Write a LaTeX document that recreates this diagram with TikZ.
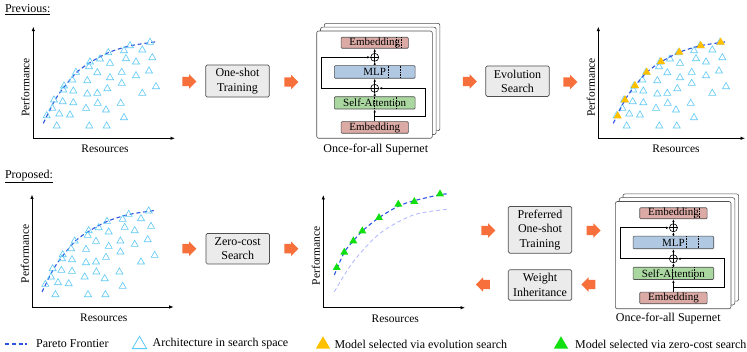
\documentclass[tikz,border=0pt]{standalone}
\usepackage{fontspec}
\setmainfont{Liberation Serif}
\usetikzlibrary{arrows.meta,shapes.geometric,shapes.arrows,positioning}
\definecolor{nas-blue}{HTML}{2E55E0}
\definecolor{nas-lav}{HTML}{B4BCFF}
\definecolor{nas-arch}{HTML}{5CC8F5}
\definecolor{nas-gold}{HTML}{FFC000}
\definecolor{nas-green}{HTML}{10E010}
\definecolor{nas-orange}{HTML}{F7703C}
\definecolor{nas-emb}{HTML}{DBAAA5}
\definecolor{nas-mlp}{HTML}{B0C8E1}
\definecolor{nas-att}{HTML}{AAD7A0}
\definecolor{nas-box}{HTML}{EBEBEB}
\definecolor{nas-line}{HTML}{505050}

% architectures in the search space, relative to the axis corner
\newcommand{\archlist}{116.7/-96, 96.7/-92.6, 90.7/-87.6, 109/-88.3, 75/-85.6, 66.7/-79.3,
  56.7/-76.3, 92.7/-79.6, 102.7/-76.3, 119/-80.6, 76.7/-75, 55.7/-71.6, 42.7/-66, 64/-65.6,
  88.4/-66, 102.7/-62.6, 115.7/-67.3, 76.7/-60.6, 39/-58.3, 54/-57.6, 88.4/-55, 30.7/-52.3,
  30/-48.3, 40/-47.3, 74/-49.6, 54/-44.3, 64/-45, 122.7/-51.6, 109/-45, 20.7/-38.3,
  29.4/-36.6, 40/-35.6, 64.4/-35, 87.4/-35, 19/-30, 52.7/-30, 72.7/-28.3, 13.4/-22.6,
  26/-24.3, 36.7/-23.3, 90.7/-20.6, 23.4/-12.3, 56/-12.3, 73.4/-12.3}

\begin{document}
\begin{tikzpicture}[
    x=1pt, y=-1pt,
    font=\fontsize{12}{14.5}\selectfont,
    axis/.style={-{Latex[length=4.5pt,width=3.5pt]}, line width=0.8pt},
    axlabel/.style={font=\fontsize{11.5}{13}\selectfont},
    pareto/.style={draw=nas-blue, line width=1.1pt, dash pattern=on 4pt off 2.8pt},
    faded/.style={draw=nas-lav, line width=0.9pt, dash pattern=on 4pt off 2.8pt},
    arch/.style={regular polygon, regular polygon sides=3, draw=nas-arch, line width=0.6pt, inner sep=0pt, minimum size=8.2pt},
    evo/.style={regular polygon, regular polygon sides=3, fill=nas-gold, inner sep=0pt, minimum size=9.6pt},
    zcost/.style={regular polygon, regular polygon sides=3, fill=nas-green, inner sep=0pt, minimum size=9.2pt},
    proc/.style={draw=nas-line, fill=nas-box, rounded corners=1.5pt, line width=0.7pt, minimum width=63.5pt, minimum height=30.5pt, align=center},
    oarrow/.style={single arrow, fill=nas-orange, draw=none, inner xsep=0pt, inner ysep=4.5pt, minimum height=14pt, single arrow head extend=2.5pt},
    frame/.style={draw=nas-line, fill=white, rounded corners=2pt, line width=0.6pt},
    module/.style={draw=nas-line, rounded corners=1pt, line width=0.6pt, inner sep=0pt, font=\fontsize{11}{12}\selectfont},
    plus/.style={circle, draw, line width=0.6pt, minimum size=8pt, inner sep=0pt},
    sarrow/.style={-{Latex[length=3pt,width=2.4pt]}, line width=0.6pt},
    supernet/.pic={
        \foreach \d in {7.6,3.8} \draw[frame] (\d,-\d) rectangle ++(115.6,107.3);
        \draw[frame] (0,0) rectangle (115.6,107.3);
        \node[module, fill=nas-emb, minimum width=67.3pt, minimum height=11pt] (-embt) at (58,11.8) {Embedding};
        \node[module, fill=nas-mlp, minimum width=80.7pt, minimum height=12.6pt] (-mlp) at (58,41) {MLP};
        \node[module, fill=nas-att, minimum width=80.7pt, minimum height=12.3pt] (-sa) at (58,71.9) {Self-Attention};
        \node[module, fill=nas-emb, minimum width=67.3pt, minimum height=11.6pt] (-embb) at (58,96.5) {Embedding};
        % elastic dimensions
        \draw[densely dotted, line width=0.6pt] (79.3,6.3) -- (79.3,17.3) (84.3,6.3) -- (84.3,17.3);
        \draw[densely dotted, line width=0.6pt] (71.3,34.7) -- (71.3,47.3) (83.3,34.7) -- (83.3,47.3);
        \draw[densely dotted, line width=0.6pt] (57.3,65.7) -- (57.3,78) (79.3,65.7) -- (79.3,78);
        \node[plus] (-pu) at (58,26.3) {};
        \node[plus] (-pl) at (58,57.3) {};
        \draw[line width=0.6pt] (-pu.north) -- (-pu.south) (-pu.west) -- (-pu.east);
        \draw[line width=0.6pt] (-pl.north) -- (-pl.south) (-pl.west) -- (-pl.east);
        \draw[sarrow] (-embb) -- (-sa);
        \draw[sarrow] (-sa) -- (-pl);
        \draw[sarrow] (-pl) -- (-mlp);
        \draw[sarrow] (-mlp) -- (-pu);
        \draw[sarrow] (-pu) -- (-embt);
        \coordinate (-br) at (58,85.7);
        \draw[sarrow] (-br) -- ++(51,0) |- (-pl.east);
        \draw[sarrow] (-pl.west) -- ++(-49,0) |- (-pu.west);
    }
]
\useasboundingbox (0,0) rectangle (747,352);

% =========================================================================
% PREVIOUS
% =========================================================================
\node[anchor=west] (prev) at (1.5,9.5) {\underline{Previous:}};

\begin{scope}[shift={(33.3,138.3)}, name prefix=tl-]
    \draw[axis] (0,0) -- (0,-111.6);
    \draw[axis] (0,0) -- (141.7,0);
    \node[axlabel, rotate=90] (perf) at (-8,-51) {Performance};
    \node[axlabel] (res) at (71.7,10.7) {Resources};
    \draw[pareto] plot[smooth] coordinates {(10,-15) (21.7,-38.3) (31.7,-52.3) (43.7,-66.3) (57.7,-76.3) (76,-86) (97.4,-92.6) (123.4,-96.6)};
    \foreach \p/\q [count=\i] in \archlist {\node[arch] (a\i) at (\p,\q) {};}
\end{scope}

\node[oarrow] (a1) at (187,81.5) {};
\node[proc] (train) at (237.5,81) {One-shot\\Training};
\node[oarrow] (a2) at (289,82) {};

\pic (sn1) at (316.7,31) {supernet};
\node (sn1lbl) at (375.8,150) {Once-for-all Supernet};

\node[oarrow] (a3) at (467.5,81.5) {};
\node[proc] (evol) at (517.5,81.2) {Evolution\\Search};
\node[oarrow] (a4) at (568,82) {};

\begin{scope}[shift={(598.3,138.3)}, name prefix=tr-]
    \draw[axis] (0,0) -- (0,-111.6);
    \draw[axis] (0,0) -- (146.7,0);
    \node[axlabel, rotate=90] (perf) at (-7.3,-51) {Performance};
    \node[axlabel] (res) at (77.7,10.3) {Resources};
    \begin{scope}[xshift=5]
        \foreach \p/\q [count=\i] in \archlist {\node[arch] (a\i) at (\p,\q) {};}
        \draw[pareto] plot[smooth] coordinates {(10,-15) (21.7,-38.3) (31.7,-52.3) (43.7,-66.3) (57.7,-76.3) (76,-86) (97.4,-92.6) (123.4,-96.6)};
        \foreach \p/\q [count=\i] in {14.4/-22.3, 21.7/-38.3, 31.7/-52.6, 43.4/-66, 57.7/-76.6, 76/-86, 97.4/-92.6, 117.4/-96}
            {\node[evo] (e\i) at (\p,\q) {};}
    \end{scope}
\end{scope}

% =========================================================================
% PROPOSED
% =========================================================================
\node[anchor=west] (prop) at (1.5,176.5) {\underline{Proposed:}};

\begin{scope}[shift={(32,307)}, name prefix=bl-]
    \draw[axis] (0,0) -- (0,-112.5);
    \draw[axis] (0,0) -- (141.7,0);
    \node[axlabel, rotate=90] (perf) at (-7,-53) {Performance};
    \node[axlabel] (res) at (71.8,11) {Resources};
    \draw[pareto] plot[smooth] coordinates {(10,-15) (21.7,-38.3) (31.7,-52.3) (43.7,-66.3) (57.7,-76.3) (76,-86) (97.4,-92.6) (123.4,-96.6)};
    \foreach \p/\q [count=\i] in \archlist {\node[arch] (a\i) at (\p,\q) {};}
\end{scope}

\node[oarrow] (b1) at (187,248.7) {};
\node[proc] (zcs) at (237.7,248.7) {Zero-cost\\Search};
\node[oarrow] (b2) at (289,248.7) {};

\begin{scope}[shift={(323.3,307.7)}, name prefix=bm-]
    \draw[axis] (0,0) -- (0,-112.7);
    \draw[axis] (0,0) -- (141.7,0);
    \node[axlabel, rotate=90] (perf) at (-7.3,-52) {Performance};
    \node[axlabel] (res) at (72,10.6) {Resources};
    \draw[faded] plot[smooth] coordinates {(11,-16) (30,-46) (56.7,-74.4) (90,-92.7) (123.4,-98.4)};
    \draw[pareto] plot[smooth] coordinates {(11,-32.7) (21,-55.4) (30,-66.7) (39,-76.7) (55.7,-90) (75,-101.5) (91,-107) (116.7,-113) (123.4,-113.7)};
    \foreach \p/\q [count=\i] in {13.4/-40, 21/-55.4, 30/-66.7, 39/-76.7, 55.7/-90, 75/-103.4, 91/-106, 116.7/-113.7}
        {\node[zcost] (g\i) at (\p,\q) {};}
\end{scope}

\node[oarrow] (b3) at (486,230.5) {};
\node[proc, minimum height=45pt] (pref) at (540,229.8) {Preferred\\One-shot\\Training};
\node[oarrow] (b4) at (591.3,230.5) {};
\node[oarrow, shape border rotate=180] (b5) at (485.3,284.5) {};
\node[proc] (inh) at (540,285) {Weight\\Inheritance};
\node[oarrow, shape border rotate=180] (b6) at (590.8,284.5) {};

\pic (sn2) at (615.4,201.5) {supernet};
\node (sn2lbl) at (668.3,318.3) {Once-for-all Supernet};

% =========================================================================
% LEGEND
% =========================================================================
\coordinate (l0) at (5,344);
\draw[pareto] (l0) -- ++(22,0);
\node[anchor=west, inner sep=0pt] (l1) at (36,344) {Pareto Frontier};
\node[arch, minimum size=16.5pt, line width=0.8pt] (l2) at (139.5,344.5) {};
\node[anchor=west, inner sep=0pt] (l3) at (152.5,344) {Architecture in search space};
\node[evo, minimum size=16.5pt] (l4) at (323,344.5) {};
\node[anchor=west, inner sep=0pt] (l5) at (334.3,344) {Model selected via evolution search};
\node[zcost, minimum size=16.5pt] (l6) at (561,344.5) {};
\node[anchor=west, inner sep=0pt] (l7) at (575,344) {Model selected via zero-cost search};

\end{tikzpicture}
\end{document}
